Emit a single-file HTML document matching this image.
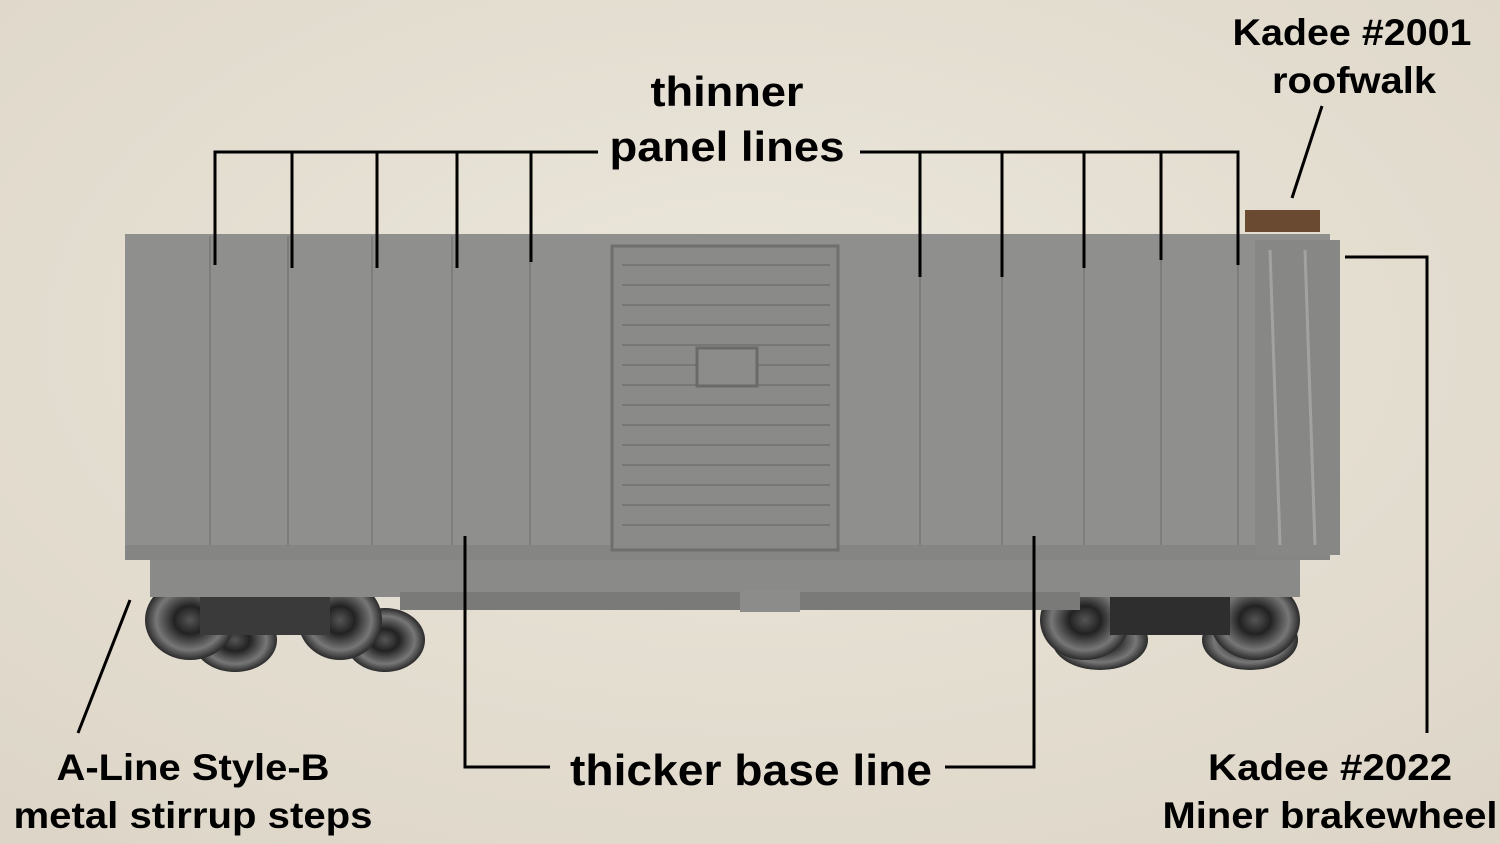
<!DOCTYPE html>
<html><head><meta charset="utf-8"><style>
html,body{margin:0;padding:0;background:#e7e1d5;}
svg{display:block}
text{font-family:"Liberation Sans",Arial,sans-serif;font-weight:bold;fill:#000;text-anchor:middle}
</style></head><body>
<svg width="1500" height="844" viewBox="0 0 1500 844" xmlns="http://www.w3.org/2000/svg">
<defs>
<radialGradient id="bg" cx="50%" cy="40%" r="75%"><stop offset="0" stop-color="#ece7dc"/><stop offset="1" stop-color="#ddd6c8"/></radialGradient>
<radialGradient id="wh" cx="50%" cy="50%" r="50%"><stop offset="0" stop-color="#555"/><stop offset="0.35" stop-color="#222"/><stop offset="0.75" stop-color="#777"/><stop offset="1" stop-color="#2a2a2a"/></radialGradient>
</defs>
<rect width="1500" height="844" fill="url(#bg)"/>
<g>
<ellipse cx="235" cy="640" rx="42" ry="32" fill="url(#wh)"/>
<ellipse cx="385" cy="640" rx="40" ry="32" fill="url(#wh)"/>
<ellipse cx="190" cy="620" rx="45" ry="40" fill="url(#wh)"/>
<ellipse cx="340" cy="620" rx="42" ry="40" fill="url(#wh)"/>
<rect x="200" y="590" width="130" height="45" fill="#3a3a3a"/>
<ellipse cx="1100" cy="640" rx="48" ry="30" fill="url(#wh)"/>
<ellipse cx="1250" cy="640" rx="48" ry="30" fill="url(#wh)"/>
<ellipse cx="1085" cy="620" rx="45" ry="40" fill="url(#wh)"/>
<ellipse cx="1255" cy="620" rx="45" ry="40" fill="url(#wh)"/>
<rect x="1110" y="590" width="120" height="45" fill="#2e2e2e"/>
</g>
<rect x="150" y="555" width="1150" height="42" fill="#8a8a88"/>
<rect x="400" y="592" width="680" height="18" fill="#7a7a78"/>
<rect x="740" y="590" width="60" height="22" fill="#8c8c8a"/>
<rect x="125" y="234" width="1205" height="326" fill="#8f8f8d"/>
<rect x="125" y="545" width="1205" height="15" fill="#858583"/>
<rect x="1255" y="240" width="85" height="315" fill="#878785"/>
<rect x="1245" y="210" width="75" height="22" fill="#6b4a32"/>
<g stroke="#7d7d7b" stroke-width="2">
<line x1="210" y1="236" x2="210" y2="545"/><line x1="288" y1="236" x2="288" y2="545"/>
<line x1="372" y1="236" x2="372" y2="545"/><line x1="452" y1="236" x2="452" y2="545"/>
<line x1="530" y1="236" x2="530" y2="545"/><line x1="920" y1="236" x2="920" y2="545"/>
<line x1="1002" y1="236" x2="1002" y2="545"/><line x1="1084" y1="236" x2="1084" y2="545"/>
<line x1="1161" y1="236" x2="1161" y2="545"/><line x1="1238" y1="236" x2="1238" y2="545"/>
</g>
<rect x="612" y="246" width="226" height="304" fill="#8a8a88" stroke="#6f6f6d" stroke-width="3"/>
<g stroke="#777775" stroke-width="2">
<line x1="622" y1="265" x2="830" y2="265"/><line x1="622" y1="285" x2="830" y2="285"/>
<line x1="622" y1="305" x2="830" y2="305"/><line x1="622" y1="325" x2="830" y2="325"/>
<line x1="622" y1="345" x2="830" y2="345"/><line x1="622" y1="365" x2="830" y2="365"/>
<line x1="622" y1="385" x2="830" y2="385"/><line x1="622" y1="405" x2="830" y2="405"/>
<line x1="622" y1="425" x2="830" y2="425"/><line x1="622" y1="445" x2="830" y2="445"/>
<line x1="622" y1="465" x2="830" y2="465"/><line x1="622" y1="485" x2="830" y2="485"/>
<line x1="622" y1="505" x2="830" y2="505"/><line x1="622" y1="525" x2="830" y2="525"/>
</g>
<rect x="697" y="348" width="60" height="38" fill="#8c8c8a" stroke="#6a6a68" stroke-width="3"/>
<g stroke="#a2a2a0" stroke-width="3"><line x1="1270" y1="250" x2="1280" y2="545"/><line x1="1305" y1="250" x2="1315" y2="545"/></g>
<g stroke="#000" stroke-width="3" fill="none">
<polyline points="215,265 215,152 598,152"/>
<line x1="292" y1="152" x2="292" y2="268"/><line x1="377" y1="152" x2="377" y2="268"/>
<line x1="457" y1="152" x2="457" y2="268"/><line x1="531" y1="152" x2="531" y2="262"/>
<polyline points="860,152 1238,152 1238,265"/>
<line x1="920" y1="152" x2="920" y2="277"/><line x1="1002" y1="152" x2="1002" y2="277"/>
<line x1="1084" y1="152" x2="1084" y2="268"/><line x1="1161" y1="152" x2="1161" y2="260"/>
<polyline points="465,536 465,767 550,767"/>
<polyline points="945,767 1034,767 1034,536"/>
<polyline points="1345,257 1427,257 1427,733"/>
<line x1="1322" y1="106" x2="1292" y2="198"/>
<line x1="130" y1="600" x2="78" y2="733"/>
</g>
<text x="727" y="106" font-size="42" textLength="153" lengthAdjust="spacingAndGlyphs">thinner</text>
<text x="727" y="161" font-size="42" textLength="235" lengthAdjust="spacingAndGlyphs">panel lines</text>
<text x="1352" y="45" font-size="37" textLength="239" lengthAdjust="spacingAndGlyphs">Kadee #2001</text>
<text x="1354" y="93" font-size="37" textLength="164" lengthAdjust="spacingAndGlyphs">roofwalk</text>
<text x="751" y="785" font-size="44" textLength="362" lengthAdjust="spacingAndGlyphs">thicker base line</text>
<text x="193" y="780" font-size="37" textLength="273" lengthAdjust="spacingAndGlyphs">A-Line Style-B</text>
<text x="193" y="828" font-size="37" textLength="359" lengthAdjust="spacingAndGlyphs">metal stirrup steps</text>
<text x="1330" y="780" font-size="37" textLength="244" lengthAdjust="spacingAndGlyphs">Kadee #2022</text>
<text x="1330" y="828" font-size="37" textLength="335" lengthAdjust="spacingAndGlyphs">Miner brakewheel</text>
</svg>
</body></html>
